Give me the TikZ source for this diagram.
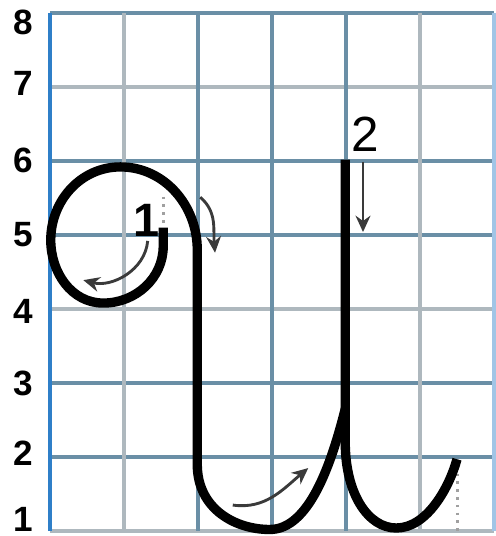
\documentclass[tikz,border=0pt]{standalone}
\usepackage{fontspec}
\setmainfont{Liberation Sans}
\usetikzlibrary{arrows.meta}
\definecolor{gridblue}{HTML}{6A8FA6}
\definecolor{gridgray}{HTML}{AEB8BE}
\definecolor{edgeblue}{HTML}{2F7FC8}
\definecolor{guide}{HTML}{3A3A3A}
\definecolor{dotgray}{HTML}{A0A0A0}
\tikzset{
  grid dark/.style={draw=gridblue, line width=1.3pt},
  grid light/.style={draw=gridgray, line width=1.3pt},
  letter/.style={draw=black, line width=3.6pt},
  guide arrow/.style={
    -{Stealth[length=2.2mm,width=2mm]},
    draw=guide,
    line width=1.1pt
  },
  helper/.style={draw=dotgray, line width=1pt, dotted},
  axis num/.style={font=\fontsize{13.5}{14}\selectfont\bfseries},
  stroke num/.style={font=\fontsize{19}{20}\selectfont}
}

\begin{document}
\begin{tikzpicture}
  \useasboundingbox (-0.676,0.932) rectangle (6.014,8.176);

  % Grid
  \foreach \y in {8,6,5,3,2} \draw[grid dark] (0,\y) -- (6,\y);
  \foreach \y in {7,4,1} \draw[grid light] (0,\y) -- (6,\y);
  \foreach \x in {2,3,4} \draw[grid dark] (\x,1) -- (\x,8);
  \foreach \x in {1,5} \draw[grid light] (\x,1) -- (\x,8);
  \draw[grid light, draw=edgeblue!45] (6,1) -- (6,8);
  \draw[line width=1.5pt, edgeblue] (0,1) -- (0,8);

  % Row numbers
  \node[axis num] (row8) at (-0.36,7.87) {8};
  \node[axis num] (row7) at (-0.36,7.05) {7};
  \node[axis num] (row6) at (-0.36,6.01) {6};
  \node[axis num] (row5) at (-0.36,5.00) {5};
  \node[axis num] (row4) at (-0.36,3.97) {4};
  \node[axis num] (row3) at (-0.36,3.00) {3};
  \node[axis num] (row2) at (-0.36,2.05) {2};
  \node[axis num] (row1) at (-0.36,1.16) {1};

  % Dotted helpers
  \draw[helper] (1.53,5.52) -- (1.53,5.16);
  \draw[helper] (5.51,1.88) -- (5.51,0.98);

  % Stroke 1: loop and first hook
  \draw[letter] (1.53,5.1) -- (1.53,4.85)
    to[out=-90,in=0] (0.72,4.08)
    to[out=180,in=-90] (0.01,4.93)
    to[out=90,in=180] (0.95,5.92)
    to[out=0,in=90] (1.99,4.8)
    -- (1.99,1.9)
    .. controls (1.99,1.3) and (2.5,1.02) .. (2.97,1.02)
    .. controls (3.5,1.02) and (3.8,1.9) .. (3.99,2.65);

  % Stroke 2: stem and second hook
  \draw[letter] (3.99,6.02) -- (3.99,2.2)
    .. controls (3.99,1.5) and (4.3,1.04) .. (4.68,1.04)
    .. controls (5.1,1.04) and (5.4,1.6) .. (5.5,1.97);

  % Direction arrows
  \draw[guide arrow] (1.32,4.92) to[out=-95,in=-15] (0.45,4.39);
  \draw[guide arrow] (2.03,5.51) to[out=-40,in=95] (2.23,4.76);
  \draw[guide arrow] (4.23,5.99) -- (4.23,5.04);
  \draw[guide arrow] (2.47,1.35) to[out=-8,in=-140] (3.49,1.85);

  % Stroke numbers
  \node[stroke num, font=\fontsize{18}{20}\selectfont\bfseries] (start1) at (1.31,5.2) {1};
  \node[stroke num] (start2) at (4.26,6.36) {2};
\end{tikzpicture}
\end{document}
